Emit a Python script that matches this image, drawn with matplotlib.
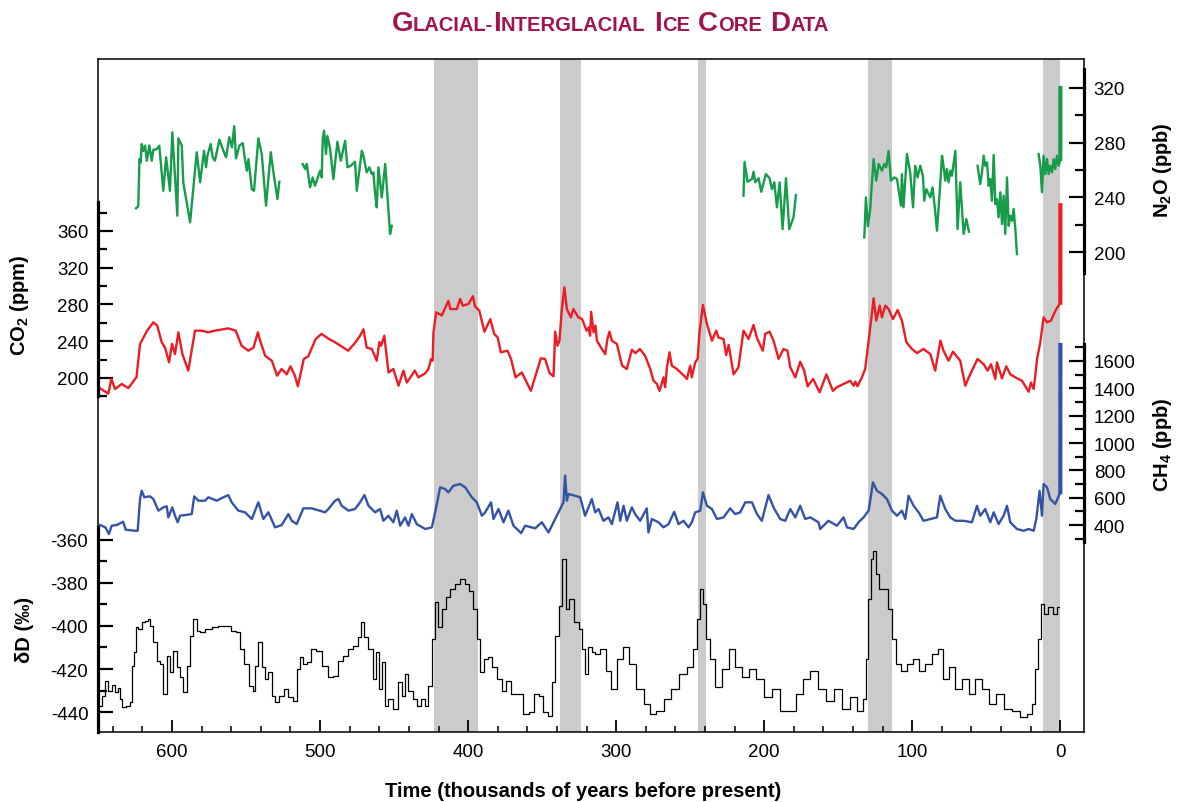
import numpy as np
import matplotlib
matplotlib.use("Agg")
import matplotlib.pyplot as plt
from matplotlib.ticker import MultipleLocator, FixedLocator
from matplotlib.transforms import IdentityTransform

plt.rcParams['font.family'] = ['Liberation Sans', 'DejaVu Sans']
plt.rcParams['mathtext.fontset'] = 'custom'
plt.rcParams['mathtext.rm'] = 'Liberation Sans'
plt.rcParams['mathtext.bf'] = 'Liberation Sans:bold'
plt.rcParams['axes.unicode_minus'] = False

nan = np.nan

# interglacial bands (kyr before present)
warm_old = [423, 338, 245, 130, 12]
warm_young = [393, 324, 239, 114, 0]

# CO2 (ppm)
co2_age = [650, 643, 641, 638.5, 634, 629.5, 627, 624, 621.6, 617, 612.6, 610, 607, 604.7, 602, 600, 598,
           595.7, 593, 589, 584.5, 580, 575.5, 571, 562, 557, 553, 548.4, 545, 542, 540.5, 537, 532.6, 529,
           526, 522.5, 520, 517, 515, 511, 508, 503, 499, 494, 490, 481, 476, 473, 470.7, 468.5, 465, 461.7,
           460, 458.8, 456.6, 453.8, 450.5, 447, 443.7, 441.4, 436, 433.6, 429, 426.8, 425, 424, 423.4,
           421.6, 417.8, 413.3, 412, 407.6, 405.4, 403.6, 399.8, 396.8, 395.3, 392.4, 389, 385, 382.4, 380,
           377.9, 373.4, 371, 368, 363.7, 357.6, 350.9, 348, 345, 342.3, 341.2, 339.6, 338.3, 336.7, 335,
           333.3, 330.6, 328.9, 325.5, 323, 320, 318.6, 317.6, 316.9, 315.3, 314, 313, 309.7, 307.4, 305.9,
           304.5, 302.9, 299.5, 296, 292.8, 289.4, 287, 284, 280.4, 277, 274.8, 272.5, 270.7, 268, 266.9,
           265.7, 264, 262.4, 259, 254.5, 252.2, 250, 248.9, 246.6, 245, 243.7, 241.4, 238.7, 235.3, 232.4,
           230.9, 227.5, 225.7, 224, 220.7, 217.4, 214, 210.6, 207.2, 205, 201, 199.3, 196.4, 193.7, 190.3,
           187, 184.3, 182.4, 179, 175.7, 173, 170.7, 167, 162.6, 158, 153.6, 150.9, 141.9, 139.6, 138.5,
           137, 134, 131.8, 128.9, 126.1, 124.3, 122, 120.5, 118.2, 116, 113, 109.9, 107, 104, 100.2, 96.8,
           92.4, 87.8, 84.5, 81, 78.9, 75.5, 72.5, 67.6, 64.2, 61.3, 55.9, 51.8, 49.1, 46.8, 43.9, 42.8,
           39.4, 36.5, 33.8, 30.4, 25.9, 23.6, 21.4, 19.8, 18, 16.9, 15.7, 13.5, 11.3, 9, 6.3, 3.4, 1.2, 0]
co2_ppm = [190, 183, 199, 188, 193.5, 189, 194.5, 201, 237, 251, 260.6, 257, 239, 233, 217, 237, 226,
           249.7, 226, 208, 251.5, 251.5, 249.7, 251.5, 254, 251.5, 235, 229.7, 233, 249.7, 240.6, 224, 218.8,
           202.5, 209.8, 204, 212.7, 202.5, 191, 220.7, 223.5, 242.4, 248, 242.4, 239, 229.7, 239, 246, 253,
           233, 231.6, 218.8, 239, 235, 246, 206, 209.8, 191.6, 208, 195, 208, 200.7, 205, 209.8, 220.7,
           218.8, 249.7, 271.5, 268, 284, 275, 275, 286, 278.7, 280.5, 289, 278, 273, 250.4, 264, 248, 244,
           228, 229.7, 220.7, 200.7, 206, 186, 221.4, 220.7, 205.4, 201.8, 250.4, 235, 240.6, 275, 298.7,
           275, 266, 275, 266, 264, 251.5, 255, 246, 272, 249.7, 257, 240.6, 231.6, 226, 242.4, 250.4,
           240.6, 237, 213.4, 209.8, 230.8, 227, 231.6, 224, 209.8, 197, 193.5, 186, 200.7, 190, 211.6,
           228, 213.4, 209.8, 203, 199, 213.4, 200.7, 217, 220.7, 249.7, 279.4, 258.8, 240.6, 251.5, 244,
           242.4, 225, 236, 204, 211.6, 251.5, 242.4, 257.7, 244, 229.7, 248, 250.4, 240.6, 220.7, 231.6,
           229.7, 211.6, 200.7, 217.7, 208, 191, 199, 184.4, 204, 186, 190, 197, 191.6, 196, 191, 200.7,
           209.8, 248, 286.7, 262.4, 278.7, 266, 278.7, 275, 264, 274, 262.4, 239, 231.6, 227, 231.6, 226,
           208, 240.6, 229.7, 218.8, 228.6, 218.8, 191.6, 202.5, 220.7, 215, 208, 215, 199, 217, 199.6,
           212.7, 204, 200.7, 197, 191, 185, 195, 188, 202.5, 220.7, 239, 266, 260.6, 262.4, 273, 278.7, 282]
co2_recent_age = [0, -0.02, -0.04, -0.055]
co2_recent_ppm = [282, 300, 330, 388]

# CH4 (ppb)
ch4_age = [648.6, 645, 642.6, 640.8, 637.4, 633, 631.3, 625, 623.2, 621.6, 620.5, 618.7, 614.9, 612.6,
           609.2, 605.9, 603.6, 602.5, 599.8, 598, 596.2, 594.6, 586.7, 585, 582.2, 577.7, 575.5, 569.8,
           565.3, 562, 559.7, 555.2, 550.7, 546.1, 541.7, 538.3, 534.9, 530.4, 525.9, 521.4, 519.1, 515.8,
           511.3, 505.6, 496.6, 494.4, 489.9, 487.6, 485.4, 480.9, 476.4, 473, 470, 467.3, 462.8, 459.5,
           457.2, 453.9, 450.5, 448.2, 445.9, 442.6, 440.3, 438, 434.7, 429, 424.5, 421.8, 418.9, 415.5,
           413.3, 410, 405.4, 402, 397.5, 394.1, 390.7, 388.5, 384.5, 382.9, 379.5, 376.1, 372.8, 369.4,
           364.2, 361.5, 354.7, 350.2, 345.7, 341.2, 337.8, 335.6, 334.5, 333.3, 332.2, 327.7, 324.3, 321,
           316.4, 314.2, 311.9, 308.6, 305.2, 302.9, 299.1, 297.3, 295, 292.8, 289.4, 287.2, 283.8, 279.3,
           278.2, 275.9, 271.4, 268, 264.6, 260.8, 257.9, 254.5, 251.1, 248.9, 246.6, 243.2, 241.4, 238.7,
           235.3, 231.9, 227.5, 223, 219.6, 216.2, 212.8, 208.3, 204.9, 201.6, 197.1, 193.7, 189.2, 185.8,
           182.4, 179, 175.7, 172.3, 168.9, 163.3, 162.2, 156.6, 150.9, 146.4, 144.1, 139.6, 136.3, 132.9,
           129.5, 127.9, 126.6, 123.9, 120.5, 117.1, 113.7, 110.3, 107, 104.7, 102.5, 99.1, 95.7, 92.4,
           87.8, 83.3, 81.1, 77.7, 74.3, 70.9, 65.3, 59.7, 56.3, 54.1, 50.7, 47.3, 45, 41.7, 38.3, 36, 33.8,
           29.3, 24.8, 21.4, 18, 16.2, 14, 12.4, 11.3, 9, 6.8, 3.4, 0]
ch4_ppb = [400, 383, 334, 395, 400, 424, 366, 358, 358, 590, 651, 603, 610, 590, 505, 529, 537, 456, 529,
           468, 420, 468, 480, 610, 578, 578, 603, 578, 603, 619, 566, 505, 493, 444, 566, 444, 493, 383,
           400, 480, 431, 407, 522, 522, 493, 517, 578, 590, 541, 505, 517, 566, 619, 541, 493, 517, 431,
           468, 420, 505, 395, 456, 395, 480, 407, 371, 383, 517, 676, 663, 639, 687, 700, 676, 603, 566,
           468, 493, 566, 444, 517, 420, 505, 395, 341, 395, 376, 420, 346, 444, 517, 566, 761, 578, 627,
           614, 603, 468, 590, 493, 517, 431, 456, 407, 566, 431, 541, 431, 529, 480, 431, 522, 346, 444,
           420, 383, 407, 497, 407, 431, 383, 420, 493, 505, 639, 541, 517, 444, 456, 522, 480, 493, 566,
           566, 480, 431, 619, 529, 444, 431, 517, 456, 541, 444, 456, 420, 371, 431, 395, 456, 383, 371,
           420, 456, 505, 614, 712, 651, 627, 590, 505, 468, 505, 444, 614, 541, 493, 431, 444, 456, 614,
           517, 456, 431, 431, 420, 541, 468, 517, 420, 493, 407, 468, 541, 420, 371, 358, 371, 358, 444,
           651, 468, 700, 676, 590, 554, 640]
ch4_recent_age = [0, -0.02, -0.04, -0.055]
ch4_recent_ppb = [640, 900, 1300, 1717]

# N2O (ppb), nan = gap in the record
n2o_age = [624.3, 622.8, 622, 621.2, 620.5, 619.4, 618.2, 617, 615.3, 613.7, 612.6, 610.3, 608.6, 605.9,
           604, 601.4, 599.8, 596.4, 595.7, 593.4, 592.4, 587.8, 583.3, 581, 578.4, 577, 576.1, 573.9,
           572.5, 571, 568, 565.3, 563.5, 561.3, 559.5, 558, 556.8, 554.5, 552.2, 551.1, 549.5, 548.4,
           546.1, 544.6, 541.7, 539.4, 536.5, 533.3, 531.5, 528.8, 527.5, nan,
           511.7, 510.1, 509, 506.8, 505, 503.4, 500, 498.9, 498.2, 497.3, 496, 495.1, 493.2, 491, 488.3,
           486, 483.1, 481.5, 479.3, 476.4, 475.2, 471.8, 470.7, 468.5, 466.7, 465.1, 464, 462.8, 461.7,
           460.6, 458.3, 456, 452.7, 451.6, nan,
           214, 213.3, 211.3, 208.3, 207.2, 206.1, 203.8, 202, 198.9, 196.4, 194.8, 193.2, 191.4, 189.6,
           187.6, 185.3, 183.1, 180.2, 178.6, nan,
           132.4, 131.3, 130, 128.4, 127.7, 126.1, 124.3, 122.7, 120.5, 118.9, 117.6, 116, 114.4, 112.2,
           110.3, 107.6, 107, 105.9, 103.6, 101.4, 99.5, 98, 96.4, 94.6, 92.8, 91.9, 90.5, 87.8, 86.3, 84.9,
           83.3, 81.5, 79.9, 78.9, 77.7, 76.6, 75.5, 74.3, 73.2, 70.9, 69.4, 67.6, 65.3, 63.5, 61.7, nan,
           55.9, 54.1, 52.9, 51.8, 50.7, 49.5, 48.4, 47.3, 46.2, 45, 43.9, 42.8, 41.7, 40.5, 39.4, 38.3,
           37.2, 36, 34.9, 33.8, 32.6, 31.5, 30.4, 29.3, nan,
           14.7, 13.5, 12.4, 11.3, 10.1, 9, 7.9, 6.8, 5.6, 4.5, 3.4, 2.3, 1.1, 0]
n2o_ppb = [232, 233.4, 268, 265.6, 279, 274, 277.8, 266.8, 278, 266.8, 274.8, 275.3, 277.8, 244.8, 269.3,
           244.8, 287.5, 226.6, 283.2, 277.8, 251, 221.7, 273, 251, 274, 262, 270.4, 279, 269.3, 266.8,
           282.2, 274, 269.3, 284, 276.6, 292, 268.5, 277.8, 279.7, 270.4, 259.5, 268, 246, 244.8, 283.2,
           271.7, 233.9, 273, 258.3, 238.8, 251.4, nan,
           264.4, 260.7, 264.4, 247.3, 254.6, 248.5, 259.5, 254.6, 282.7, 288.7, 271.7, 285, 275.3, 253.4,
           280.7, 266.8, 281.4, 262, 263.1, 266, 244.8, 274, 270.4, 258.3, 262, 257, 258.3, 242.4, 232.7,
           262, 240, 264.4, 213.2, 219.2, nan,
           241.2, 266, 251.4, 253.4, 258.7, 251, 254, 244.1, 257, 254, 246, 251, 232.7, 251, 216.8, 254,
           216.8, 225.4, 241.7, nan,
           210.7, 240, 218.8, 231.5, 243.7, 268, 252.2, 264.4, 259.5, 264.4, 262, 274, 252.2, 254.6, 253.4,
           233.9, 257, 232.7, 271.7, 258.3, 232.7, 263.1, 254.6, 263.1, 255.8, 237.5, 246, 240, 247.3, 233.9,
           215.6, 243.7, 270.4, 263.1, 252.2, 260.7, 251, 259.5, 255.8, 274, 216.8, 251, 213.2, 224.1,
           214.9, nan,
           263.1, 249.7, 258.3, 270.4, 263.1, 265.6, 248.5, 253.4, 237.5, 271, 235.1, 238.8, 225.4, 243.7,
           220.5, 241.2, 213.2, 254.6, 219.2, 226.6, 222.9, 231.5, 216.8, 198.5, nan,
           271.7, 263.1, 243.7, 270.4, 257, 268, 257, 263.1, 258.3, 268, 260.7, 270.4, 263.1, 268]
n2o_recent_age = [0, -0.03, -0.055]
n2o_recent_ppb = [268, 285, 320]

# deuterium (permil)
dd_age = [648.6, 646.4, 644.1, 641.9, 639.7, 637.4, 635.8, 634.5, 632.9, 629.5, 627.7, 626.1, 625, 623.9,
          621.6, 619.4, 617.1, 615.5, 613.7, 611.5, 609.2, 606.9, 604.7, 602.5, 600.2, 598, 595.7, 593.4,
          591.2, 589, 586.7, 584.5, 582.2, 580, 575.5, 571, 566.4, 562, 558.6, 555.6, 552.9, 549.5, 546.1,
          545, 542.8, 540.5, 538.3, 536, 533.8, 531.5, 529.3, 525.9, 522.5, 520.3, 516.9, 514.6, 512.4,
          510.1, 507.9, 504.5, 501.2, 496.6, 492.1, 489.9, 486.5, 483.1, 479.7, 476.4, 473, 471.4, 469.6,
          466.2, 462.8, 461, 458.8, 457.2, 455.6, 452.7, 449.3, 445.9, 443.7, 441.4, 439.2, 435.8, 433.6,
          430.2, 427.9, 425.7, 423.4, 421.6, 418.9, 416.2, 413.5, 410.8, 406.8, 404, 400.7, 398, 395.3,
          393.2, 390.7, 388.5, 385, 382.9, 378.4, 376.1, 372.8, 369.4, 364.9, 360.4, 357, 353.6, 350.2, 348,
          344.6, 342.3, 340, 337.8, 335.8, 332.2, 331, 325.5, 324.3, 322.1, 319.8, 317.6, 315.3, 312.8,
          308.8, 305.4, 302, 297.3, 293.2, 289.2, 283.8, 279, 275.7, 270.3, 265.5, 260.1, 254.7, 250, 246.6,
          244.6, 242.6, 240.5, 238.5, 235.1, 231.1, 226.4, 221.6, 217.6, 212.8, 208.1, 202.7, 197.3, 191.9,
          186.5, 181.1, 175.7, 171.6, 166.2, 160.8, 155.4, 150, 144.6, 139.9, 135.1, 131.8, 130.4, 129.1,
          127, 125.7, 123.6, 120.9, 117.6, 114.9, 112.2, 109.5, 105.4, 101.4, 97.3, 93.2, 89.2, 84.5, 81.1,
          77.7, 73, 68.9, 64.2, 59.5, 55.4, 50.7, 45.9, 40.5, 35.1, 29.7, 24.3, 20.3, 17.6, 16.2, 14.2, 12.2,
          9.5, 6.8, 3.4, 0.7]
dd_permil = [-437.1, -432.4, -425.4, -430.1, -427.4, -430.8, -429, -434, -437.8, -437.1, -435.5, -418.5,
             -412.2, -400.6, -401.4, -398.3, -397.5, -396.7, -399.8, -407.6, -416.1, -417.7, -431.6, -413.8,
             -421.5, -411.5, -419.2, -423.9, -430.8, -418.5, -404.5, -396.7, -402.2, -402.9, -401.4, -400.6,
             -399.8, -399.8, -402.2, -402.9, -410.7, -417.7, -427.8, -430.1, -418.5, -407.6, -419.2, -424.7,
             -421.5, -432.4, -435.5, -432.4, -429.3, -433.2, -434.7, -420, -414.6, -417.7, -416.9, -410.7,
             -411.5, -418.5, -423.9, -423.1, -416.1, -413.8, -410.7, -409.2, -405.3, -398.3, -405.3, -410.7,
             -424.7, -412.2, -429.3, -416.9, -437.1, -434, -438.6, -426.2, -432.4, -422.3, -430.1, -434,
             -437.1, -434, -437.1, -427.8, -406, -388.8, -400.5, -392.1, -386.5, -382.8, -380.5, -378.1,
             -380.5, -383.7, -392.1, -406, -421.5, -415.3, -414.6, -419.2, -424.7, -430.1, -425.4, -431.6,
             -431.6, -440.9, -440.1, -431.6, -432.4, -440.1, -441.7, -426.2, -404.5, -390.6, -368.8, -392.1,
             -387.4, -398.3, -401.4, -410.7, -422.3, -409.9, -412.2, -413, -410.7, -420.9, -429.3, -415.3,
             -409.8, -417.7, -429.3, -436.3, -440.9, -439.5, -434, -429.3, -422.3, -419.1, -410.7, -396.7,
             -382.8, -389.8, -406, -415.3, -428.4, -420, -410.7, -419.1, -423.7, -420, -424.7, -433, -429.3,
             -439.5, -439.5, -431.6, -424.7, -420.9, -429.3, -434.9, -429.3, -438.6, -433, -439.5, -434,
             -415.3, -387.4, -368.8, -365.1, -375.8, -382.8, -382.8, -392.1, -406, -417.7, -420.9, -417.7,
             -415.3, -420.9, -417.7, -413, -410.7, -424.7, -419.1, -429.3, -424.7, -431.6, -424.7, -429.3,
             -436.3, -431.6, -438.6, -439.5, -442.3, -440.9, -436.3, -420, -406, -389.8, -394.4, -391.2,
             -394.4, -391.2]

fig = plt.figure(figsize=(11.77, 8.03), dpi=100)
ax = fig.add_axes([98 / 1177, 70 / 803, 986 / 1177, 673 / 803])
ax.set_xlim(650, -16)
ax.set_ylim(0, 1)
ax.set_yticks([])
for old, young in zip(warm_old, warm_young):
    ax.axvspan(young, old, color='#cbcbcb', lw=0, zorder=0)
for s in ax.spines.values():
    s.set_linewidth(1.1)
ax.xaxis.set_major_locator(MultipleLocator(100))
ax.xaxis.set_minor_locator(MultipleLocator(20))
ax.tick_params(axis='x', which='major', direction='in', length=8.5, width=1.3, pad=8, labelsize=13.5)
ax.tick_params(axis='x', which='minor', direction='in', length=4, width=1.1)


def side_axis(side, ylim, bounds, major, minor):
    t = ax.twinx()
    t.set_ylim(*ylim)
    t.patch.set_visible(False)
    for s in t.spines.values():
        s.set_visible(False)
    sp = t.spines[side]
    sp.set_visible(True)
    sp.set_bounds(*bounds)
    sp.set_linewidth(2.3)
    if side == 'left':
        t.yaxis.tick_left()
    else:
        t.yaxis.tick_right()
    t.yaxis.set_major_locator(FixedLocator(major))
    t.yaxis.set_minor_locator(FixedLocator(minor))
    t.tick_params(axis='y', which='major', direction='in', length=10.5, width=1.6, pad=7, labelsize=13.5)
    t.tick_params(axis='y', which='minor', direction='in', length=6.5, width=1.6)
    return t


ax_co2 = side_axis('left', (-185.2, 547.1), (180, 392),
                   [200, 240, 280, 320, 360], [180, 220, 260, 300, 340, 380])
ax_dd = side_axis('left', (-449.3, -136.3), (-449.3, -354),
                  [-440, -420, -400, -380, -360], [-430, -410, -390, -370])
ax_n2o = side_axis('right', (-151.1, 341.2), (185, 334),
                   [200, 240, 280, 320], [220, 260, 300])
ax_ch4 = side_axis('right', (-1114, 3809), (275, 1725),
                   [400, 600, 800, 1000, 1200, 1400, 1600], [300, 500, 700, 900, 1100, 1300, 1500, 1700])

red = '#ec1c24'
blue = '#3453a5'
green = '#169c4a'

ax_dd.plot(dd_age, dd_permil, color='black', lw=0.9, drawstyle='steps-mid')
ax_ch4.plot(ch4_age, ch4_ppb, color=blue, lw=1.7)
ax_ch4.plot(ch4_recent_age, ch4_recent_ppb, color=blue, lw=3)
ax_co2.plot(co2_age, co2_ppm, color=red, lw=1.7)
ax_co2.plot(co2_recent_age, co2_recent_ppm, color=red, lw=3)
ax_n2o.plot(n2o_age, n2o_ppb, color=green, lw=1.7)
ax_n2o.plot(n2o_recent_age, n2o_recent_ppb, color=green, lw=3)

lab = dict(fontsize=14.5, fontweight='bold', rotation=90, ha='center', va='center')
fig.text(20 / 1177, 1 - 305 / 803, r'CO$_\mathbf{2}$ (ppm)', **lab)
fig.text(25 / 1177, 1 - 630 / 803, 'δD (‰)', **lab)
fig.text(1163 / 1177, 1 - 170 / 803, r'N$_\mathbf{2}$O (ppb)', **lab)
fig.text(1163 / 1177, 1 - 445 / 803, r'CH$_\mathbf{4}$ (ppb)', **lab)
fig.text(583 / 1177, 1 - 792 / 803, 'Time (thousands of years before present)',
         fontsize=14.5, fontweight='bold', ha='center', va='center')

# title in small capitals
title = 'Glacial-Interglacial Ice Core Data'
big, small = 20, 14.5
title_color = '#a0144c'
renderer = fig.canvas.get_renderer()
pieces = []
for word in title.split(' '):
    runs = []
    for ch in word:
        size = big if ch.isupper() else small
        if runs and runs[-1][1] == size:
            runs[-1][0] += ch.upper()
        else:
            runs.append([ch.upper(), size])
    pieces.append(runs)

gap = 0.3 * big * 100 / 72
texts = []
x = 0
for i, runs in enumerate(pieces):
    if i > 0:
        x += gap
    for s, size in runs:
        t = fig.text(x, 0, s, fontsize=size, fontweight='bold', color=title_color,
                     transform=IdentityTransform(), ha='left', va='baseline')
        w = t.get_window_extent(renderer).width
        texts.append((t, x))
        x += w
x0 = 610 - x / 2
for t, xx in texts:
    t.set_position((x0 + xx, 803 - 31))

fig.savefig('out.png', dpi=100)
